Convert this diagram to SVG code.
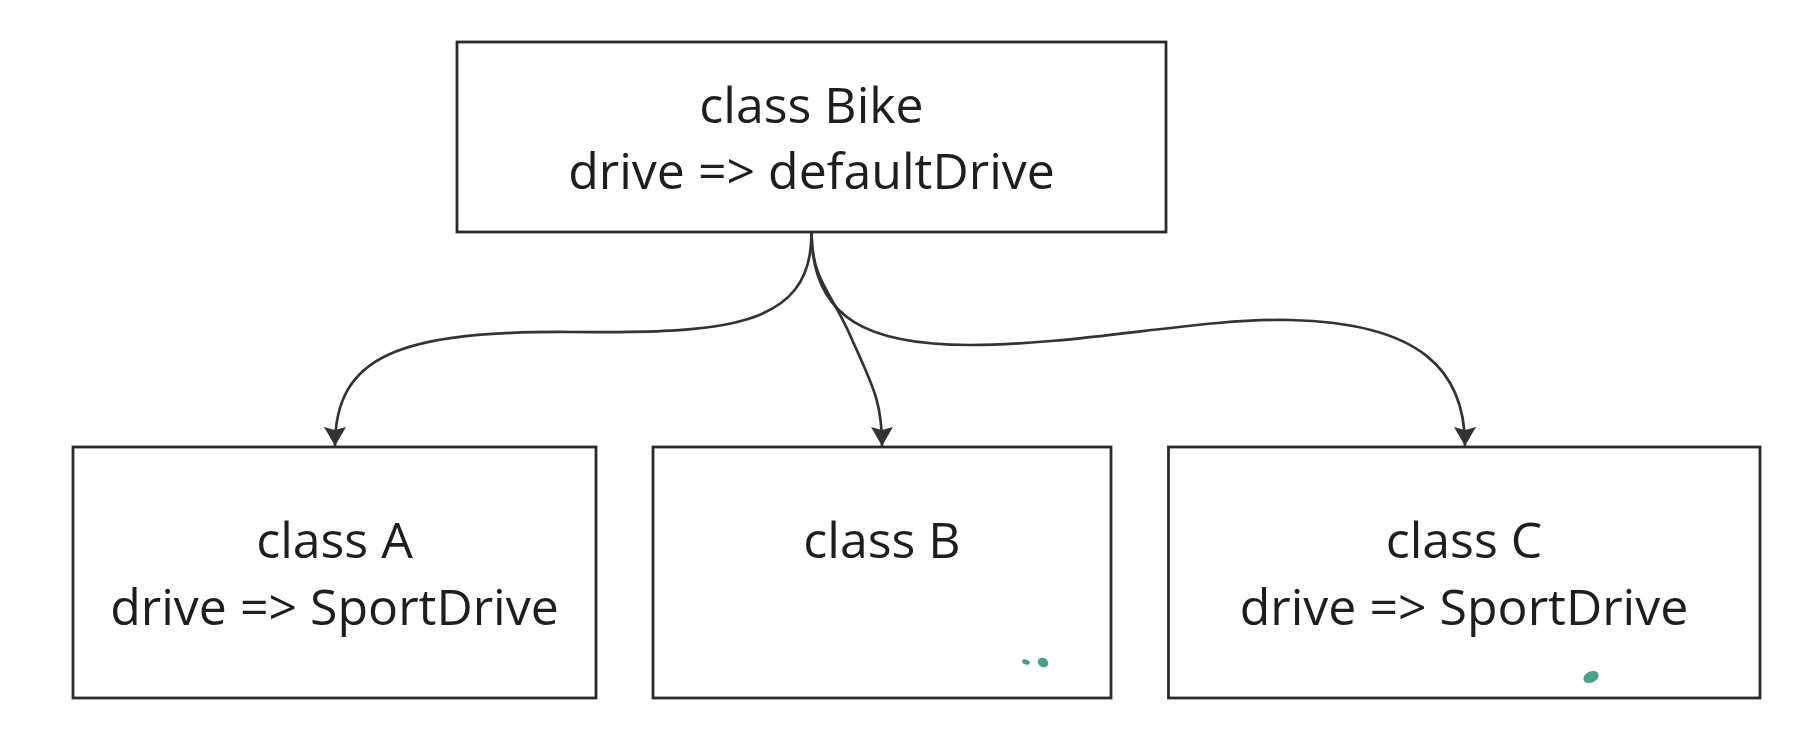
<svg xmlns="http://www.w3.org/2000/svg" width="1818" height="752" viewBox="0 0 1818 752">
<style>
.box{fill:#ffffff;stroke:#2b2b2b;stroke-width:2.8}
.lbl{font-family:"Open Sans","Liberation Sans",sans-serif;font-size:50px;fill:#1e1e1e;text-anchor:middle}
.edge{fill:none;stroke:#333333;stroke-width:2.7}
.speck{fill:#47a088}
</style>
<defs>
<marker id="arrow" viewBox="0 0 19 22" refX="19" refY="11" markerWidth="19" markerHeight="22" markerUnits="userSpaceOnUse" orient="auto">
<path d="M0,0 L19,11 L0,22 L3,11 Z" fill="#333333"/>
</marker>
</defs>
<rect width="1818" height="752" fill="#ffffff"/>
<g id="connectors">
<path class="edge" marker-end="url(#arrow)" d="M811.5,233 C812,330 720,333 570,332 C400,331 335,355 335,446"/>
<path class="edge" marker-end="url(#arrow)" d="M811.5,233 C812,280 830,290 850,335 C872,385 882,400 882,446"/>
<path class="edge" marker-end="url(#arrow)" d="M811.5,233 C812,320 870,345 970,345 C1080,345 1200,318 1290,320 C1420,323 1465,370 1465,446"/>
</g>
<g id="node-bike">
<rect class="box" x="457" y="42" width="709" height="190"/>
<text class="lbl" x="811.5" y="123">class Bike</text>
<text class="lbl" x="811.5" y="189">drive =&gt; defaultDrive</text>
</g>
<g id="node-a">
<rect class="box" x="73" y="447" width="523" height="251"/>
<text class="lbl" x="334.5" y="558">class A</text>
<text class="lbl" x="334.5" y="625">drive =&gt; SportDrive</text>
</g>
<g id="node-b">
<rect class="box" x="653" y="447" width="458" height="251"/>
<text class="lbl" x="882" y="558">class B</text>
<ellipse class="speck" cx="1026" cy="662" rx="4" ry="2.5" transform="rotate(20 1026 662)"/>
<ellipse class="speck" cx="1043" cy="662.5" rx="5.5" ry="4.5" transform="rotate(30 1043 662.5)"/>
</g>
<g id="node-c">
<rect class="box" x="1168.5" y="447" width="591.5" height="251"/>
<text class="lbl" x="1464" y="558">class C</text>
<text class="lbl" x="1464" y="625">drive =&gt; SportDrive</text>
<ellipse class="speck" cx="1591" cy="677" rx="8" ry="5.5" transform="rotate(-25 1591 677)"/>
</g>
</svg>
